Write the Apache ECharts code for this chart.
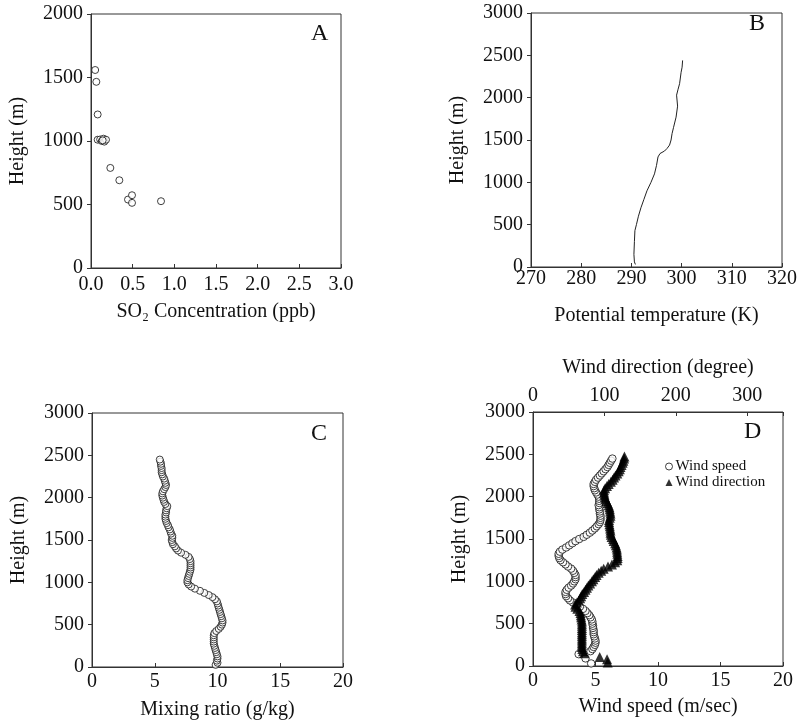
<!DOCTYPE html>
<html><head><meta charset="utf-8">
<script src="https://cdn.jsdelivr.net/npm/echarts@6/dist/echarts.min.js"></script>
<style>html,body{margin:0;padding:0;background:#fff}#c{width:800px;height:721px}</style>
</head><body><div id="c"></div>
<script>
// Panel A: SO2 concentration (ppb) vs height (m)
const so2Conc   = [0.05, 0.064, 0.08, 0.08, 0.11, 0.13, 0.15, 0.16, 0.18, 0.14, 0.232, 0.34, 0.444, 0.492, 0.492, 0.84];
const so2Height = [1559, 1466, 1209, 1010, 1012, 1000, 1018, 995, 1010, 1005, 788, 691, 539, 573, 513, 526];

// Panel B: potential temperature (K) vs height (m)
const thetaHeight = [30, 60, 150, 300, 430, 500, 600, 700, 800, 900, 1000, 1100, 1200, 1300, 1340, 1370, 1400, 1440, 1500, 1575, 1650, 1770, 1900, 2030, 2100, 2165, 2300, 2360, 2440];
const thetaK      = [290.8, 290.6, 290.5, 290.6, 290.7, 291.0, 291.4, 291.9, 292.5, 293.1, 293.9, 294.6, 295.0, 295.3, 295.7, 296.6, 297.1, 297.6, 297.9, 298.1, 298.4, 298.9, 299.2, 299.0, 299.3, 299.6, 299.9, 300.1, 300.2];

// Panel C: mixing ratio (g/kg) vs height (m)
const mixHeight = [25,50,75,100,125,150,175,200,225,250,275,300,325,350,375,400,425,450,475,500,525,550,575,600,625,650,675,700,725,750,775,800,825,850,875,900,925,950,975,1000,1025,1050,1075,1100,1125,1150,1175,1200,1225,1250,1275,1300,1325,1350,1375,1400,1425,1450,1475,1500,1525,1550,1575,1600,1625,1650,1675,1700,1725,1750,1775,1800,1825,1850,1875,1900,1925,1950,1975,2000,2025,2050,2075,2100,2125,2150,2175,2200,2225,2250,2275,2300,2325,2350,2375,2400,2425,2450];
const mixRatio  = [9.85,10.0,9.95,10.0,10.0,9.95,9.9,9.85,9.8,9.75,9.7,9.7,9.7,9.7,9.7,9.75,9.9,10.1,10.25,10.35,10.4,10.4,10.35,10.3,10.25,10.2,10.15,10.1,10.05,10.0,9.95,9.8,9.6,9.3,8.95,8.6,8.2,7.9,7.7,7.6,7.6,7.65,7.7,7.75,7.8,7.85,7.85,7.85,7.85,7.85,7.8,7.7,7.45,7.1,6.85,6.7,6.6,6.45,6.4,6.35,6.4,6.4,6.3,6.25,6.2,6.1,6.05,5.95,5.9,5.85,5.85,5.85,5.9,5.9,5.95,6.0,5.85,5.75,5.7,5.65,5.6,5.6,5.65,5.75,5.85,5.9,5.85,5.8,5.75,5.65,5.6,5.55,5.55,5.55,5.5,5.5,5.45,5.4];

// Panel D: wind speed (m/sec) vs height (m)
const speedHeight = [30,90,140,175,200,225,250,275,300,325,350,375,400,425,450,475,500,525,550,575,600,625,650,675,700,725,750,775,800,825,850,875,900,925,950,975,1000,1025,1050,1075,1100,1125,1150,1175,1200,1225,1250,1275,1300,1325,1350,1375,1400,1425,1450,1475,1500,1525,1550,1575,1600,1625,1650,1675,1700,1725,1750,1775,1800,1825,1850,1875,1900,1925,1950,1975,2000,2025,2050,2075,2100,2125,2150,2175,2200,2225,2250,2275,2300,2325,2350,2375,2400,2425,2450];
const windSpeed   = [4.65,4.2,3.65,4.6,4.75,4.85,4.95,5.0,5.0,4.95,4.9,4.85,4.85,4.85,4.8,4.8,4.75,4.75,4.7,4.6,4.5,4.35,4.2,4.0,3.75,3.5,3.2,2.95,2.8,2.65,2.6,2.6,2.7,2.85,3.05,3.2,3.3,3.4,3.4,3.4,3.3,3.2,3.05,2.8,2.6,2.4,2.2,2.1,2.05,2.05,2.15,2.35,2.65,2.9,3.15,3.4,3.7,4.05,4.3,4.55,4.75,4.95,5.1,5.25,5.35,5.4,5.4,5.4,5.35,5.35,5.3,5.3,5.25,5.3,5.3,5.3,5.25,5.15,5.05,4.95,4.9,4.85,4.85,4.95,5.05,5.2,5.35,5.5,5.65,5.8,5.95,6.05,6.15,6.25,6.35];

// Panel D: wind direction (degree) vs height (m)
const dirHeight = [40,80,105,150,175,200,225,250,275,300,325,350,375,400,425,450,475,500,525,550,575,600,625,650,675,700,725,750,775,800,825,850,875,900,925,950,975,1000,1025,1050,1075,1100,1125,1150,1175,1200,1225,1250,1275,1300,1325,1350,1375,1400,1425,1450,1475,1500,1525,1550,1575,1600,1625,1650,1675,1700,1725,1750,1775,1800,1825,1850,1875,1900,1925,1950,1975,2000,2025,2050,2075,2100,2125,2150,2175,2200,2225,2250,2275,2300,2325,2350,2375,2400,2425,2450,2475];
const windDir   = [104.6,103.7,93.4,72,70,69,68.5,68.5,68.5,68.5,68.5,68.5,68.5,68.5,68.5,68.5,68.5,68.5,68.5,68,67.5,67,66.5,65,62,59.5,59,61.5,64,66,67.5,69,71.5,73.5,75.5,77.5,80,82.5,84.5,87,89,92,95.5,99,105,110.5,115,118,118.5,118.5,118,117.8,117.5,117,116,115,113,112,110,109,108.5,108.5,108,107.5,107,106.5,106.5,107.5,108.5,108.5,108,107.5,107,106,104.5,103,101.5,100.5,100,99.5,99.5,101,103.5,106,109,111.5,113.5,115.5,118,120,121.5,122.5,124,125.5,126.5,127.5,128];

const panelLetters = ['A', 'B', 'C', 'D'];
const legendNames = ['Wind speed', 'Wind direction'];

const FONT = "'Liberation Serif','Times New Roman',serif";
const INK = '#111';
const zip = (xs, ys) => xs.map((x, i) => [x, ys[i]]);

function xAx(g, min, max, interval, name, nameGap, margin, fmt, extra) {
  return Object.assign({
    type: 'value', gridIndex: g, min, max, interval,
    name, nameLocation: 'middle', nameGap,
    nameTextStyle: { fontFamily: FONT, fontSize: 20, color: INK },
    axisLine: { show: true, onZero: false, lineStyle: { color: '#333', width: 1 } },
    axisTick: { show: true, inside: true, length: 4, lineStyle: { color: '#333' } },
    axisLabel: { fontFamily: FONT, fontSize: 20, color: INK, margin, formatter: fmt || (v => String(v)) },
    splitLine: { show: false }
  }, extra || {});
}
function yAx(g, max) {
  return {
    type: 'value', gridIndex: g, min: 0, max, interval: 500,
    name: 'Height (m)', nameLocation: 'middle', nameGap: 63,
    nameTextStyle: { fontFamily: FONT, fontSize: 20, color: INK },
    axisLine: { show: true, onZero: false, lineStyle: { color: '#333', width: 1 } },
    axisTick: { show: true, inside: false, length: 4, lineStyle: { color: '#333' } },
    axisLabel: { fontFamily: FONT, fontSize: 20, color: INK, margin: 8, formatter: v => String(v) },
    splitLine: { show: false }
  };
}
const gridStyle = { show: true, borderColor: '#333', borderWidth: 1, backgroundColor: 'transparent' };
const letterPos = [[311, 22], [749, 12], [311, 422], [744, 420]];

const chart = echarts.init(document.getElementById('c'), null, { renderer: 'canvas' });
chart.setOption({
  animation: false,
  backgroundColor: '#fff',
  title: panelLetters.map((t, i) => ({
    text: t, left: letterPos[i][0], top: letterPos[i][1], padding: 0,
    textStyle: { fontFamily: FONT, fontSize: 24, fontWeight: 'normal', color: INK }
  })),
  legend: {
    left: 665, top: 459, orient: 'vertical', padding: 0, itemGap: 1,
    itemWidth: 7, itemHeight: 7,
    textStyle: { fontFamily: FONT, fontSize: 15, color: INK, padding: [0, 0, 0, -2] },
    data: [
      { name: legendNames[0], icon: 'circle', itemStyle: { color: '#fff', borderColor: '#111', borderWidth: 1 } },
      { name: legendNames[1], icon: 'triangle', itemStyle: { color: '#000', borderWidth: 0 } }
    ]
  },
  grid: [
    Object.assign({ left: 91, top: 14, width: 250, height: 254 }, gridStyle),
    Object.assign({ left: 531, top: 13, width: 251, height: 254 }, gridStyle),
    Object.assign({ left: 92, top: 413, width: 251, height: 254 }, gridStyle),
    Object.assign({ left: 533, top: 412, width: 250, height: 254 }, gridStyle)
  ],
  xAxis: [
    xAx(0, 0, 3, 0.5, 'SO\u2082 Concentration (ppb)', 34, 7, v => v.toFixed(1)),
    xAx(1, 270, 320, 10, 'Potential temperature (K)', 39, 2),
    xAx(2, 0, 20, 5, 'Mixing ratio (g/kg)', 33, 5),
    xAx(3, 0, 20, 5, 'Wind speed (m/sec)', 31, 5),
    xAx(3, 0, 350, 100, 'Wind direction (degree)', 34, 6, v => (v > 300 ? '' : String(v)), { position: 'top' })
  ],
  yAxis: [yAx(0, 2000), yAx(1, 3000), yAx(2, 3000), yAx(3, 3000)],
  series: [
    { type: 'scatter', xAxisIndex: 0, yAxisIndex: 0, data: zip(so2Conc, so2Height),
      symbol: 'circle', symbolSize: 7, itemStyle: { color: '#fff', borderColor: '#111', borderWidth: 1 } },
    { type: 'line', xAxisIndex: 1, yAxisIndex: 1, data: zip(thetaK, thetaHeight),
      showSymbol: false, symbol: 'none', lineStyle: { color: '#222', width: 1 } },
    { type: 'scatter', xAxisIndex: 2, yAxisIndex: 2, data: zip(mixRatio, mixHeight),
      symbol: 'circle', symbolSize: 7, itemStyle: { color: '#fff', borderColor: '#111', borderWidth: 1 } },
    { name: legendNames[0], type: 'scatter', xAxisIndex: 3, yAxisIndex: 3, data: zip(windSpeed, speedHeight),
      symbol: 'circle', symbolSize: 7.5, itemStyle: { color: '#fff', borderColor: '#111', borderWidth: 1 } },
    { name: legendNames[1], type: 'scatter', xAxisIndex: 4, yAxisIndex: 3, data: zip(windDir, dirHeight),
      symbol: 'triangle', symbolSize: 10, itemStyle: { color: '#000' } }
  ]
});
</script></body></html>
